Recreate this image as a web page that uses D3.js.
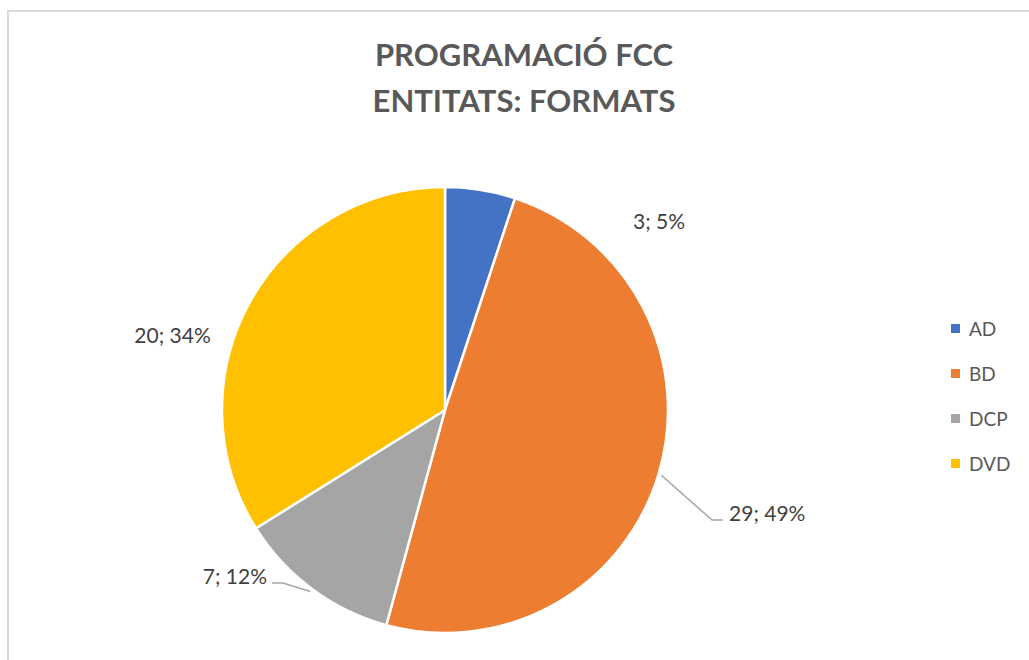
<!DOCTYPE html>
<html>
<head>
<meta charset="utf-8">
<script src="https://cdn.jsdelivr.net/npm/d3@7"></script>
<style>
	html, body { margin: 0; padding: 0; background: #fff; }
	svg { display: block; }
	text { font-family: Lato, "Open Sans", sans-serif; }
</style>
</head>
<body>
<svg id="chart" width="1029" height="660"></svg>
<script>
var categories = ['AD', 'BD', 'DCP', 'DVD'];
var counts = [3, 29, 7, 20];
var colors = ['#4472C4', '#ED7D31', '#A5A5A5', '#FFC000'];
var titleLines = ['PROGRAMACIÓ FCC', 'ENTITATS: FORMATS'];

(function () {
	var svg = d3.select('#chart');
	var cx = 445, cy = 410, radius = 223;
	var total = d3.sum(counts);

	// chart area border, runs off the right and bottom edges
	svg.append('rect')
		.attr('x', 8).attr('y', 11)
		.attr('width', 1100).attr('height', 700)
		.attr('fill', 'none')
		.attr('stroke', '#d9d9d9')
		.attr('stroke-width', 2);

	svg.selectAll('.title')
		.data(titleLines)
		.enter().append('text')
		.attr('class', 'title')
		.attr('x', 524)
		.attr('y', function (d, i) { return 66 + i * 46; })
		.attr('text-anchor', 'middle')
		.attr('font-size', '31px')
		.attr('font-weight', 'bold')
		.attr('fill', '#595959')
		.text(function (d) { return d; });

	var pie = d3.pie().sort(null).value(function (d) { return d; });
	var arcs = pie(counts);
	var arc = d3.arc().innerRadius(0).outerRadius(radius);

	var g = svg.append('g').attr('transform', 'translate(' + cx + ',' + cy + ')');

	g.selectAll('path')
		.data(arcs)
		.enter().append('path')
		.attr('d', arc)
		.attr('fill', function (d, i) { return colors[i]; })
		.attr('stroke', '#fff')
		.attr('stroke-width', 2.5)
		.attr('stroke-linejoin', 'round');

	// label placement: angle (deg, clockwise from top) and radius factor
	var labelLayout = [
		{ deg: 48.7, r: 1.278, leader: false },
		{ deg: 111.6, r: 1.341, leader: true },
		{ deg: 225, r: 1.097, leader: true },
		{ deg: 285.2, r: 1.266, leader: false }
	];

	function polar(deg, r) {
		var a = deg * Math.PI / 180;
		return [r * Math.sin(a), -r * Math.cos(a)];
	}

	arcs.forEach(function (d, i) {
		var lay = labelLayout[i];
		var p = polar(lay.deg, radius * lay.r);
		var pct = Math.round(counts[i] / total * 100);
		var label = counts[i] + '; ' + pct + '%';
		var t = g.append('text')
			.attr('font-size', '21px')
			.attr('fill', '#404040')
			.attr('dy', '0.35em')
			.text(label);

		if (!lay.leader) {
			t.attr('x', p[0]).attr('y', p[1]).attr('text-anchor', 'middle');
			return;
		}

		var mid = (d.startAngle + d.endAngle) / 2 * 180 / Math.PI;
		var start = polar(mid, radius + 3);
		var right = p[0] > 0;
		var knee = [p[0] + (right ? -11 : 11), p[1]];
		g.append('polyline')
			.attr('points', [start, knee, p].map(function (q) { return q.join(','); }).join(' '))
			.attr('fill', 'none')
			.attr('stroke', '#a6a6a6')
			.attr('stroke-width', 1.5);

		t.attr('x', p[0] + (right ? 6 : -5))
			.attr('y', p[1] - 6)
			.attr('text-anchor', right ? 'start' : 'end');
	});

	var legend = svg.selectAll('.legend')
		.data(categories)
		.enter().append('g')
		.attr('class', 'legend')
		.attr('transform', function (d, i) { return 'translate(951,' + (324 + i * 45) + ')'; });

	legend.append('rect')
		.attr('width', 9).attr('height', 9)
		.attr('fill', function (d, i) { return colors[i]; });

	legend.append('text')
		.attr('x', 18).attr('y', 12)
		.attr('font-size', '19px')
		.attr('fill', '#595959')
		.text(function (d) { return d; });
}());
</script>
</body>
</html>
